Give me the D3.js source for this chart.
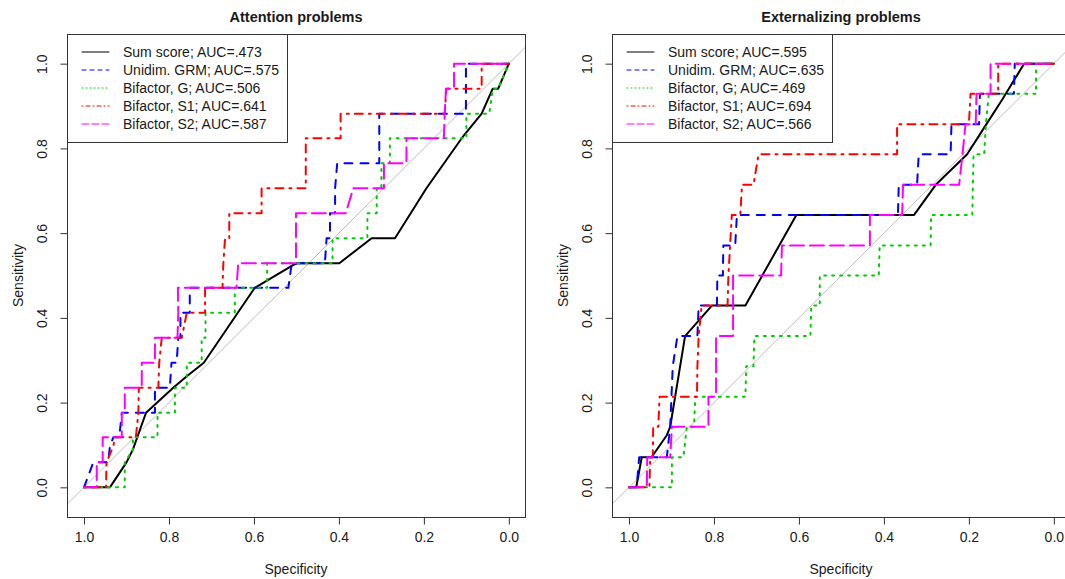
<!DOCTYPE html>
<html>
<head>
<meta charset="utf-8">
<script src="https://cdn.jsdelivr.net/npm/d3@7"></script>
<style>
    body { margin: 0; background: #fff; }
    svg { display: block; font-family: "Liberation Sans", Arial, sans-serif; }
</style>
</head>
<body>
<div id="chart"></div>
<script>
// Series shared by both panels
const seriesNames = ["Sum score", "Unidim. GRM", "Bifactor, G", "Bifactor, S1", "Bifactor, S2"];
const attnAuc = [".473", ".575", ".506", ".641", ".587"];
const extAuc = [".595", ".635", ".469", ".694", ".566"];
const tickValues = [1, 0.8, 0.6, 0.4, 0.2, 0];

// ROC points as [specificity, sensitivity]
// Attention problems (17 positives)
const attnSum = [[1, 0], [0.939, 0], [0.9, 0.059], [0.885, 0.089], [0.854, 0.176], [0.829, 0.199], [0.79, 0.235], [0.758, 0.262], [0.718, 0.294], [0.598, 0.471], [0.507, 0.525], [0.498, 0.529], [0.399, 0.529], [0.323, 0.588], [0.268, 0.588], [0.194, 0.706], [0.111, 0.824], [0.064, 0.882], [0.038, 0.941], [0.025, 0.941], [0, 1]];
const attnGrm = [[1, 0], [0.978, 0.059], [0.943, 0.059], [0.939, 0.097], [0.931, 0.118], [0.917, 0.118], [0.911, 0.176], [0.833, 0.176], [0.833, 0.235], [0.798, 0.235], [0.794, 0.294], [0.782, 0.294], [0.778, 0.353], [0.773, 0.353], [0.773, 0.412], [0.751, 0.412], [0.751, 0.471], [0.519, 0.471], [0.511, 0.529], [0.433, 0.529], [0.429, 0.588], [0.421, 0.588], [0.421, 0.647], [0.409, 0.647], [0.409, 0.706], [0.404, 0.765], [0.305, 0.765], [0.305, 0.882], [0.101, 0.882], [0.101, 1], [0, 1]];
const attnG = [[1, 0], [0.904, 0], [0.904, 0.059], [0.885, 0.089], [0.885, 0.118], [0.827, 0.118], [0.827, 0.176], [0.786, 0.176], [0.786, 0.235], [0.758, 0.235], [0.758, 0.294], [0.723, 0.294], [0.723, 0.353], [0.714, 0.353], [0.714, 0.412], [0.645, 0.412], [0.645, 0.471], [0.569, 0.471], [0.569, 0.529], [0.415, 0.529], [0.415, 0.588], [0.333, 0.588], [0.333, 0.647], [0.311, 0.647], [0.311, 0.706], [0.3, 0.706], [0.3, 0.765], [0.28, 0.765], [0.28, 0.824], [0.1, 0.824], [0.1, 0.882], [0.046, 0.882], [0.038, 0.941], [0.025, 0.941], [0, 1]];
const attnS1 = [[1, 0], [0.948, 0], [0.947, 0.059], [0.931, 0.097], [0.927, 0.118], [0.878, 0.118], [0.872, 0.176], [0.871, 0.235], [0.825, 0.235], [0.823, 0.294], [0.817, 0.353], [0.77, 0.353], [0.758, 0.412], [0.715, 0.412], [0.715, 0.471], [0.674, 0.471], [0.672, 0.529], [0.668, 0.588], [0.658, 0.588], [0.658, 0.647], [0.582, 0.647], [0.582, 0.706], [0.478, 0.706], [0.478, 0.824], [0.396, 0.824], [0.396, 0.882], [0.151, 0.882], [0.147, 0.941], [0.064, 0.941], [0.064, 1], [0, 1]];
const attnS2 = [[1, 0], [0.97, 0], [0.97, 0.059], [0.956, 0.059], [0.956, 0.118], [0.911, 0.118], [0.911, 0.176], [0.904, 0.176], [0.904, 0.235], [0.864, 0.235], [0.864, 0.294], [0.833, 0.294], [0.833, 0.353], [0.78, 0.353], [0.778, 0.412], [0.779, 0.471], [0.641, 0.471], [0.637, 0.529], [0.501, 0.529], [0.501, 0.647], [0.384, 0.647], [0.366, 0.706], [0.294, 0.706], [0.294, 0.765], [0.241, 0.765], [0.241, 0.824], [0.153, 0.824], [0.151, 0.882], [0.148, 0.941], [0.129, 0.941], [0.129, 1], [0, 1]];

// Externalizing problems (14 positives)
const extSum = [[1, 0], [0.983, 0], [0.97, 0.071], [0.947, 0.071], [0.911, 0.123], [0.903, 0.143], [0.868, 0.357], [0.805, 0.429], [0.726, 0.429], [0.606, 0.643], [0.329, 0.643], [0.278, 0.714], [0.204, 0.786], [0.164, 0.849], [0.121, 0.916], [0.07, 1], [0, 1]];
const extGrm = [[1, 0], [0.982, 0], [0.976, 0.071], [0.911, 0.071], [0.903, 0.143], [0.897, 0.286], [0.886, 0.357], [0.839, 0.357], [0.836, 0.429], [0.793, 0.429], [0.792, 0.5], [0.779, 0.5], [0.778, 0.571], [0.75, 0.571], [0.746, 0.643], [0.367, 0.643], [0.365, 0.714], [0.322, 0.714], [0.318, 0.786], [0.243, 0.786], [0.241, 0.857], [0.176, 0.857], [0.174, 0.929], [0.094, 0.929], [0.092, 1], [0, 1]];
const extG = [[1, 0], [0.899, 0], [0.899, 0.071], [0.872, 0.071], [0.864, 0.143], [0.847, 0.143], [0.844, 0.214], [0.726, 0.214], [0.724, 0.286], [0.707, 0.286], [0.705, 0.357], [0.573, 0.357], [0.571, 0.429], [0.551, 0.429], [0.551, 0.5], [0.412, 0.5], [0.41, 0.571], [0.29, 0.571], [0.289, 0.643], [0.192, 0.643], [0.189, 0.786], [0.164, 0.786], [0.16, 0.857], [0.153, 0.929], [0.042, 0.929], [0.042, 1], [0, 1]];
const extS1 = [[1, 0], [0.952, 0], [0.95, 0.071], [0.944, 0.071], [0.943, 0.143], [0.931, 0.143], [0.928, 0.214], [0.84, 0.214], [0.839, 0.286], [0.836, 0.357], [0.829, 0.429], [0.768, 0.429], [0.766, 0.5], [0.762, 0.571], [0.758, 0.643], [0.738, 0.643], [0.734, 0.714], [0.707, 0.714], [0.695, 0.786], [0.369, 0.786], [0.369, 0.857], [0.2, 0.857], [0.196, 0.929], [0.131, 0.929], [0.131, 1], [0, 1]];
const extS2 = [[1, 0], [0.958, 0], [0.957, 0.071], [0.903, 0.071], [0.899, 0.143], [0.813, 0.143], [0.813, 0.214], [0.795, 0.214], [0.795, 0.357], [0.755, 0.357], [0.755, 0.5], [0.642, 0.5], [0.64, 0.571], [0.433, 0.571], [0.433, 0.643], [0.357, 0.643], [0.355, 0.714], [0.223, 0.714], [0.215, 0.786], [0.208, 0.857], [0.184, 0.857], [0.182, 0.929], [0.149, 0.929], [0.149, 1], [0, 1]];

// R-like line styles: solid, dashed, dotted, dotdash, longdash
const lineColors = ["#000000", "#0000ff", "#00cd00", "#ff0000", "#ff00ff"];
const dashPlot = [null, "8,8", "2,6", "2,6,8,6", "14,6"];
const dashLegend = [null, "4,4", "1,3", "1,3,4,3", "7,3"];

const width = 1065, height = 579;
const boxTop = 34, boxBottom = 517, boxWidth = 458;
const xDomain = [1.04, -0.038];
const yDomain = [-0.07, 1.07];
const textColor = "#1a1a1a";
const frameColor = "#333";

const svg = d3.select("#chart").append("svg")
    .attr("width", width)
    .attr("height", height);

const panels = [
    {title: "Attention problems", left: 67, curves: [attnSum, attnGrm, attnG, attnS1, attnS2], auc: attnAuc},
    {title: "Externalizing problems", left: 612, curves: [extSum, extGrm, extG, extS1, extS2], auc: extAuc},
];

panels.forEach((p, i) => drawPanel(p, i));

function drawPanel(panel, idx) {
    const left = panel.left;
    const x = d3.scaleLinear().domain(xDomain).range([left, left + boxWidth]);
    const y = d3.scaleLinear().domain(yDomain).range([boxBottom, boxTop]);

    const clipId = `clip-${idx}`;
    svg.append("clipPath").attr("id", clipId)
        .append("rect")
        .attr("x", left).attr("y", boxTop)
        .attr("width", boxWidth).attr("height", boxBottom - boxTop);

    const plot = svg.append("g").attr("clip-path", `url(#${clipId})`);

    // chance diagonal
    plot.append("line")
        .attr("x1", x(xDomain[0])).attr("y1", y(1 - xDomain[0]))
        .attr("x2", x(xDomain[1])).attr("y2", y(1 - xDomain[1]))
        .attr("stroke", "#bebebe")
        .attr("stroke-width", 1);

    const line = d3.line()
        .x(d => x(d[0]))
        .y(d => y(d[1]));

    plot.selectAll("path.roc")
        .data(panel.curves)
        .enter().append("path")
        .attr("class", "roc")
        .attr("d", line)
        .attr("fill", "none")
        .attr("stroke", (d, i) => lineColors[i])
        .attr("stroke-width", 2)
        .attr("stroke-linecap", "round")
        .attr("stroke-linejoin", "round")
        .attr("stroke-dasharray", (d, i) => dashPlot[i]);

    // frame
    svg.append("rect")
        .attr("x", left + 0.5).attr("y", boxTop + 0.5)
        .attr("width", boxWidth).attr("height", boxBottom - boxTop)
        .attr("fill", "none")
        .attr("stroke", frameColor);

    renderAxes(x, y, left);
    renderLegend(panel, left);

    svg.append("text")
        .attr("x", left + boxWidth / 2)
        .attr("y", 22)
        .attr("text-anchor", "middle")
        .style("font-size", "14.5px")
        .style("font-weight", "bold")
        .attr("fill", textColor)
        .text(panel.title);
}

function renderAxes(x, y, left) {
    const xAxis = d3.axisBottom(x)
        .tickValues(tickValues)
        .tickSize(7)
        .tickPadding(8)
        .tickFormat(d3.format(".1f"));
    const yAxis = d3.axisLeft(y)
        .tickValues(tickValues)
        .tickSize(7)
        .tickFormat(d3.format(".1f"));

    const gx = svg.append("g")
        .attr("transform", `translate(0, ${boxBottom + 0.5})`)
        .call(xAxis);
    const gy = svg.append("g")
        .attr("transform", `translate(${left + 0.5}, 0)`)
        .call(yAxis);

    [gx, gy].forEach(g => {
        g.select(".domain").remove();
        g.selectAll(".tick line").attr("stroke", frameColor);
        g.selectAll(".tick text")
            .attr("fill", textColor)
            .style("font-size", "14px")
            .style("font-family", "'Liberation Sans', Arial, sans-serif");
    });

    // y labels run along the axis, R style
    gy.selectAll(".tick text")
        .attr("x", 0)
        .attr("dy", "0.35em")
        .attr("text-anchor", "middle")
        .attr("transform", "translate(-25, 0) rotate(-90)");

    svg.append("text")
        .attr("x", left + boxWidth / 2)
        .attr("y", 574)
        .attr("text-anchor", "middle")
        .style("font-size", "14px")
        .attr("fill", textColor)
        .text("Specificity");

    svg.append("text")
        .attr("transform", `translate(${left - 49}, ${(boxTop + boxBottom) / 2}) rotate(-90)`)
        .attr("dy", "0.35em")
        .attr("text-anchor", "middle")
        .style("font-size", "14px")
        .attr("fill", textColor)
        .text("Sensitivity");
}

function renderLegend(panel, left) {
    const rowH = 18;
    const firstRow = 52;
    const legend = svg.append("g");

    const box = legend.append("rect")
        .attr("x", left + 0.5).attr("y", boxTop + 0.5)
        .attr("height", 108)
        .attr("fill", "#fff")
        .attr("stroke", frameColor);

    const rows = legend.selectAll("g.row")
        .data(seriesNames)
        .enter().append("g")
        .attr("class", "row")
        .attr("transform", (d, i) => `translate(${left}, ${firstRow + i * rowH})`);

    rows.append("line")
        .attr("x1", 15).attr("x2", 42)
        .attr("stroke", (d, i) => lineColors[i])
        .attr("stroke-width", 1)
        .attr("stroke-linecap", "round")
        .attr("stroke-dasharray", (d, i) => dashLegend[i]);

    const labels = rows.append("text")
        .attr("x", 56)
        .attr("dy", "0.35em")
        .style("font-size", "14px")
        .attr("fill", textColor)
        .text((d, i) => `${d}; AUC=${panel.auc[i]}`);

    let maxW = 0;
    labels.each(function () {
        maxW = Math.max(maxW, this.getComputedTextLength());
    });
    box.attr("width", Math.round(56 + maxW + 8));
}
</script>
</body>
</html>
